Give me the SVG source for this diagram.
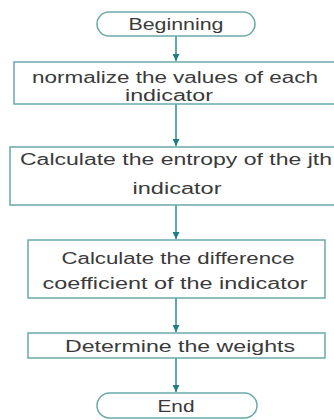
<svg xmlns="http://www.w3.org/2000/svg" width="334" height="420" viewBox="0 0 334 420">
<defs>
<marker id="ah" markerWidth="8" markerHeight="7" refX="7" refY="3.5" orient="auto" markerUnits="userSpaceOnUse">
<path d="M0,0 L7,3.5 L0,7 Z" fill="#1f7f7f"/>
</marker>
</defs>
<style>
.box{fill:#ffffff;stroke:#6aa9aa;stroke-width:1.5}
.t{font-family:"Liberation Sans","Open Sans",sans-serif;font-size:16px;fill:#3a3a3a;text-anchor:middle}
.c{stroke:#2a8c8c;stroke-width:1.5;fill:none}
</style>
<rect width="334" height="420" fill="#ffffff"/>
<g id="connectors">
<line class="c" x1="176" y1="36" x2="176" y2="61" marker-end="url(#ah)"/>
<line class="c" x1="176" y1="104" x2="176" y2="146" marker-end="url(#ah)"/>
<line class="c" x1="176" y1="205" x2="176" y2="239" marker-end="url(#ah)"/>
<line class="c" x1="176" y1="298" x2="176" y2="332" marker-end="url(#ah)"/>
<line class="c" x1="176" y1="358" x2="176" y2="392" marker-end="url(#ah)"/>
</g>
<g id="start">
<rect class="box" x="97" y="12" width="158" height="24" rx="12"/>
<text class="t" x="176" y="30" textLength="95" lengthAdjust="spacingAndGlyphs">Beginning</text>
</g>
<g id="normalize">
<rect class="box" x="14" y="62" width="324" height="42"/>
<text class="t" x="175" y="83" textLength="286" lengthAdjust="spacingAndGlyphs">normalize the values of each</text>
<text class="t" x="169" y="101" textLength="88" lengthAdjust="spacingAndGlyphs">indicator</text>
</g>
<g id="entropy">
<rect class="box" x="10" y="147" width="328" height="58"/>
<text class="t" x="176" y="165" textLength="312" lengthAdjust="spacingAndGlyphs">Calculate the entropy of the jth</text>
<text class="t" x="177" y="194" textLength="89" lengthAdjust="spacingAndGlyphs">indicator</text>
</g>
<g id="difference">
<rect class="box" x="28" y="240" width="297" height="58"/>
<text class="t" x="178" y="264" textLength="233" lengthAdjust="spacingAndGlyphs">Calculate the difference</text>
<text class="t" x="175" y="289" textLength="265" lengthAdjust="spacingAndGlyphs">coefficient of the indicator</text>
</g>
<g id="weights">
<rect class="box" x="28" y="333" width="297" height="25"/>
<text class="t" x="180" y="352" textLength="230" lengthAdjust="spacingAndGlyphs">Determine the weights</text>
</g>
<g id="end">
<rect class="box" x="97" y="393" width="160" height="25" rx="12.5"/>
<text class="t" x="176" y="412" textLength="37" lengthAdjust="spacingAndGlyphs">End</text>
</g>
</svg>
